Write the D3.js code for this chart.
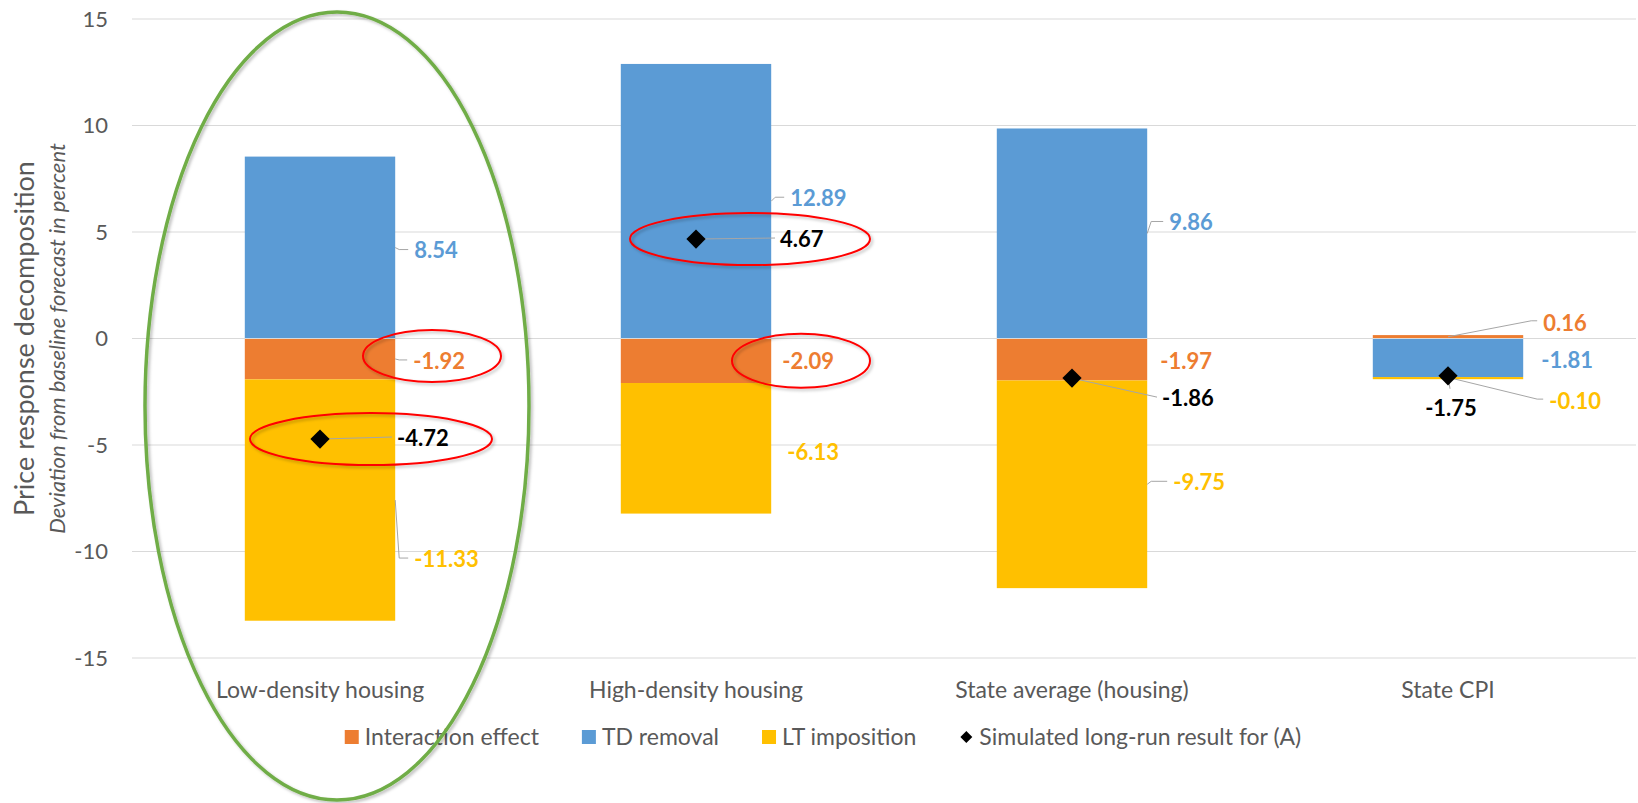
<!DOCTYPE html>
<html>
<head>
<meta charset="utf-8">
<script src="https://cdn.jsdelivr.net/npm/d3@7"></script>
<style>
body { margin: 0; background: #fff; }
text { font-family: Lato, "Open Sans", sans-serif; }
</style>
</head>
<body>
<script>
// chart values
var categories = ["Low-density housing", "High-density housing", "State average (housing)", "State CPI"];
var seriesNames = ["Interaction effect", "TD removal", "LT imposition"];
var interaction = [-1.92, -2.09, -1.97, 0.16];
var tdRemoval = [8.54, 12.89, 9.86, -1.81];
var ltImposition = [-11.33, -6.13, -9.75, -0.10];
var simulated = [-4.72, 4.67, -1.86, -1.75];
var simulatedName = "Simulated long-run result for (A)";
var yTicks = [-15, -10, -5, 0, 5, 10, 15];
var colors = ["#ED7D31", "#5B9BD5", "#FFC000"];

// label placement (like moved labels in the spreadsheet): [dx, dy, leader]
// leader: 0 none, 1 from bar edge, 2 from bar centre
var labelNudge = {
    "Interaction effect": [[18, 2, 1], [11, 0, 0], [13, 2, 0], [20, -14, 2]],
    "TD removal": [[19, 3, 1], [19, -3, 1], [22, -11, 1], [18, 2, 0]],
    "LT imposition": [[19, 59, 1], [16, 4, 0], [26, -2, 1], [26, 23, 2]]
};
var totalNudge = [[77, -1], [84, 0], [90, 20], [3, 32]];

var width = 1638, height = 803;
var margin = {left: 132, right: 2, top: 19, bottom: 145};

var svg = d3.select("body").append("svg")
    .attr("width", width)
    .attr("height", height);

var defs = svg.append("defs");
var shadow = defs.append("filter").attr("id", "shadow")
    .attr("x", "-10%").attr("y", "-10%").attr("width", "120%").attr("height", "120%");
shadow.append("feDropShadow")
    .attr("dx", 2).attr("dy", 2).attr("stdDeviation", 1.5)
    .attr("flood-color", "#000").attr("flood-opacity", 0.25);

var x = d3.scaleBand()
    .domain(categories)
    .range([margin.left, width - margin.right])
    .paddingInner(0.6)
    .paddingOuter(0.3);

var y = d3.scaleLinear()
    .domain([-15, 15])
    .range([height - margin.bottom, margin.top]);

var rows = categories.map(function(c, i) {
    var r = {cat: c};
    r[seriesNames[0]] = interaction[i];
    r[seriesNames[1]] = tdRemoval[i];
    r[seriesNames[2]] = ltImposition[i];
    return r;
});

var stacked = d3.stack()
    .keys(seriesNames)
    .offset(d3.stackOffsetDiverging)(rows);

// gridlines
svg.append("g")
    .selectAll("line")
    .data(yTicks.filter(function(t) { return t !== 0; }))
    .enter()
    .append("line")
    .attr("x1", margin.left)
    .attr("x2", width - margin.right)
    .attr("y1", function(d) { return y(d); })
    .attr("y2", function(d) { return y(d); })
    .attr("stroke", "#d9d9d9")
    .attr("stroke-width", 1);

// y tick labels
svg.append("g")
    .selectAll("text")
    .data(yTicks)
    .enter()
    .append("text")
    .attr("x", margin.left - 24)
    .attr("y", function(d) { return y(d); })
    .attr("dy", "0.36em")
    .attr("text-anchor", "end")
    .attr("font-size", 22)
    .attr("fill", "#595959")
    .text(function(d) { return d; });

// stacked bars
svg.append("g")
    .selectAll("g")
    .data(stacked)
    .enter()
    .append("g")
    .attr("fill", function(d, i) { return colors[i]; })
    .selectAll("rect")
    .data(function(d) { return d; })
    .enter()
    .append("rect")
    .attr("x", function(d) { return x(d.data.cat); })
    .attr("width", x.bandwidth())
    .attr("y", function(d) { return y(d[1]); })
    .attr("height", function(d) { return y(d[0]) - y(d[1]); });

// zero axis line over the bars
svg.append("line")
    .attr("x1", margin.left)
    .attr("x2", width - margin.right)
    .attr("y1", y(0))
    .attr("y2", y(0))
    .attr("stroke", "#d9d9d9")
    .attr("stroke-width", 1.2);

// segment labels
var leaders = svg.append("g").attr("fill", "none").attr("stroke", "#a6a6a6").attr("stroke-width", 1);
var labels = svg.append("g").attr("font-size", 22).attr("font-weight", "bold");

stacked.forEach(function(s, si) {
    s.forEach(function(d, ci) {
        var n = labelNudge[s.key][ci];
        var edge = x(d.data.cat) + x.bandwidth();
        var mid = (y(d[0]) + y(d[1])) / 2;
        var lx = edge + n[0], ly = mid + n[1];
        if (n[2] === 1) {
            leaders.append("polyline")
                .attr("points", [[edge, mid], [edge + 4, ly - 1], [lx - 6, ly - 1]].join(" "));
        } else if (n[2] === 2) {
            var c = x(d.data.cat) + x.bandwidth() / 2 + (n[1] > 0 ? 3 : 0);
            leaders.append("polyline")
                .attr("points", [[c, mid], [lx - 12, ly - 2], [lx - 6, ly - 2]].join(" "));
        }
        labels.append("text")
            .attr("x", lx)
            .attr("y", ly)
            .attr("dy", "0.36em")
            .attr("fill", colors[si])
            .text(d.data[s.key].toFixed(2));
    });
});

// simulated result diamonds and labels
var diamond = d3.symbol().type(d3.symbolSquare).size(185);
simulated.forEach(function(v, i) {
    var cx = x(categories[i]) + x.bandwidth() / 2, cy = y(v);
    var n = totalNudge[i];
    var middle = n[0] < 20;
    if (middle) {
        leaders.append("line")
            .attr("x1", cx).attr("y1", cy)
            .attr("x2", cx + 2).attr("y2", cy + n[1] - 19);
    } else {
        leaders.append("line")
            .attr("x1", cx).attr("y1", cy)
            .attr("x2", cx + n[0] - 5).attr("y2", cy + n[1] - 1);
    }
    svg.append("path")
        .attr("d", diamond)
        .attr("transform", "translate(" + cx + "," + cy + ") rotate(45)")
        .attr("fill", "#000");
    labels.append("text")
        .attr("x", cx + n[0])
        .attr("y", cy + n[1])
        .attr("dy", "0.36em")
        .attr("text-anchor", middle ? "middle" : "start")
        .attr("fill", "#000")
        .text(v.toFixed(2));
});
labels.raise();

// category labels
svg.append("g")
    .selectAll("text")
    .data(categories)
    .enter()
    .append("text")
    .attr("x", function(d) { return x(d) + x.bandwidth() / 2; })
    .attr("y", 690)
    .attr("dy", "0.36em")
    .attr("text-anchor", "middle")
    .attr("font-size", 23)
    .attr("fill", "#595959")
    .text(function(d) { return d; });

// axis titles
svg.append("text")
    .attr("transform", "translate(34," + y(0) + ") rotate(-90)")
    .attr("text-anchor", "middle")
    .attr("font-size", 27)
    .attr("fill", "#595959")
    .text("Price response decomposition");
svg.append("text")
    .attr("transform", "translate(65," + y(0) + ") rotate(-90)")
    .attr("text-anchor", "middle")
    .attr("font-size", 22)
    .attr("font-style", "italic")
    .attr("fill", "#595959")
    .text("Deviation from baseline forecast in percent");

// legend
var legendItems = seriesNames.map(function(n, i) { return {name: n, color: colors[i], kind: "square"}; })
    .concat([{name: simulatedName, color: "#000", kind: "diamond"}]);
var legend = svg.append("g");
var lx = 0;
legendItems.forEach(function(d) {
    var g = legend.append("g").attr("transform", "translate(" + lx + ",0)");
    if (d.kind === "square") {
        g.append("rect").attr("x", 0).attr("y", -7).attr("width", 14).attr("height", 14).attr("fill", d.color);
    } else {
        g.append("path")
            .attr("d", d3.symbol().type(d3.symbolSquare).size(72))
            .attr("transform", "translate(7,0) rotate(45)")
            .attr("fill", d.color);
    }
    var t = g.append("text")
        .attr("x", 20)
        .attr("y", 0)
        .attr("dy", "0.36em")
        .attr("font-size", 23)
        .attr("fill", "#595959")
        .text(d.name);
    lx += 20 + t.node().getComputedTextLength() + 43;
});
var legendWidth = lx - 43;
legend.attr("transform", "translate(" + (823 - legendWidth / 2) + ",737)");

// annotation rings
var rings = svg.append("g").attr("fill", "none").attr("filter", "url(#shadow)");
var redRings = [
    {cat: 0, v: interaction[0] / 2, dx: 112, dy: -3, rx: 69, ry: 26},
    {cat: 0, v: simulated[0], dx: 51, dy: 0, rx: 121, ry: 26},
    {cat: 1, v: simulated[1], dx: 54, dy: 0, rx: 120, ry: 26},
    {cat: 1, v: interaction[1] / 2, dx: 105, dy: 0, rx: 69, ry: 27}
];
rings.selectAll("ellipse.red")
    .data(redRings)
    .enter()
    .append("ellipse")
    .attr("cx", function(d) { return x(categories[d.cat]) + x.bandwidth() / 2 + d.dx; })
    .attr("cy", function(d) { return y(d.v) + d.dy; })
    .attr("rx", function(d) { return d.rx; })
    .attr("ry", function(d) { return d.ry; })
    .attr("stroke", "#FF0000")
    .attr("stroke-width", 2);
rings.append("ellipse")
    .attr("cx", x(categories[0]) + x.bandwidth() / 2 + 17)
    .attr("cy", 406)
    .attr("rx", 192)
    .attr("ry", 394)
    .attr("stroke", "#70AD47")
    .attr("stroke-width", 3.5);
</script>
</body>
</html>
